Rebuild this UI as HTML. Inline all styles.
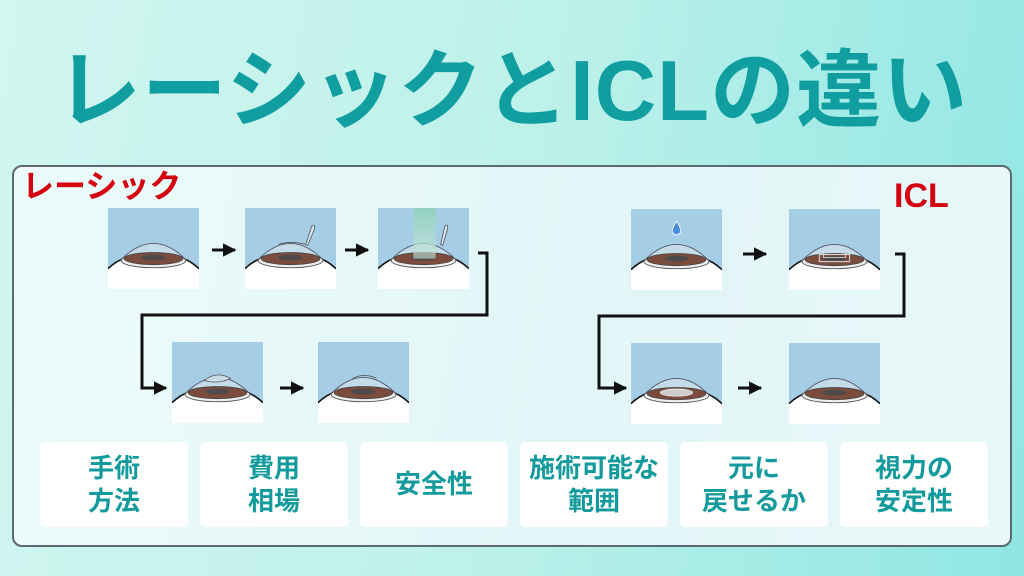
<!DOCTYPE html>
<html><head><meta charset="utf-8"><style>
*{margin:0;padding:0;box-sizing:border-box}
body{width:1024px;height:576px;overflow:hidden;background:linear-gradient(100deg,#d2f6f0 0%,#bdf1ea 50%,#8fe6e3 100%);font-family:"Liberation Sans","Noto Sans CJK JP",sans-serif;position:relative}
.title{position:absolute;left:0;top:42px;width:1024px;text-align:center;font-size:85px;font-weight:bold;color:#119ea0;line-height:100px;white-space:nowrap;letter-spacing:1px}
.panel{position:absolute;left:12px;top:165px;width:1000px;height:382px;border:2px solid #5d6a72;border-radius:10px;background:linear-gradient(100deg,#ecfbfa,#e2f6f7 60%,#e8f8f8)}
.lab{position:absolute;color:#d4000f;font-weight:bold;font-size:32px;line-height:36px}
.btn{position:absolute;top:442px;width:148px;height:85px;background:#fff;border-radius:5px;color:#139a9c;font-weight:bold;font-size:26px;line-height:33px;display:flex;align-items:center;justify-content:center;text-align:center}
svg.t{position:absolute;width:91px;height:81px}
</style></head><body>
<div class="title">レーシックとICLの違い</div>
<div class="panel"></div>
<div class="lab" style="left:22px;top:168px">レーシック</div>
<div class="lab" style="left:894px;top:178px;font-size:34px">ICL</div>
<svg width="0" height="0" style="position:absolute">
<defs>
<symbol id="eye" viewBox="0 0 90 80">
<rect width="90" height="80" fill="#fff"/>
<rect width="90" height="64" fill="#a6cde6"/>
<path d="M0,60 Q8,52 20,48 L70,48 Q82,52 90,60 L90,80 L0,80Z" fill="#fff"/>
<path d="M0,60 Q8,52 20,48 M70,48 Q82,52 90,60" stroke="#111" stroke-width="1.6" fill="none"/>
<path d="M12,52 Q45,18 78,52" fill="#c4dbe8" stroke="#556" stroke-width="0.9"/>
<ellipse cx="45" cy="52" rx="32" ry="7" fill="#eee" stroke="#555" stroke-width="0.9"/>
<ellipse cx="45" cy="50" rx="29" ry="6" fill="#7b4c3e" stroke="#444" stroke-width="0.8"/>
<ellipse cx="45" cy="49" rx="12" ry="3" fill="#4f4a4a"/>
</symbol>
</defs></svg>
<svg class="t" style="left:108px;top:208px" viewBox="0 0 90 80"><use href="#eye"/></svg>
<svg class="t" style="left:245px;top:208px" viewBox="0 0 90 80"><use href="#eye"/><path d="M33,36 Q45,32 60,36" stroke="#555" stroke-width="0.8" fill="none"/><path d="M60,36 L66,18 Q69,15 69,20 L62,37Z" fill="#d6e6ee" stroke="#555" stroke-width="0.8"/></svg>
<svg class="t" style="left:378px;top:208px" viewBox="0 0 90 80"><use href="#eye"/><defs><linearGradient id="g" x1="0" y1="0" x2="0" y2="1"><stop offset="0" stop-color="#8fd0b8"/><stop offset="1" stop-color="#c8e8d8" stop-opacity=".7"/></linearGradient></defs><rect x="35" y="0" width="22" height="50" fill="url(#g)" opacity=".85"/><path d="M62,36 L66,18 Q69,15 69,20 L64,37Z" fill="#d6e6ee" stroke="#555" stroke-width="0.8"/></svg>
<svg class="t" style="left:172px;top:342px" viewBox="0 0 90 80"><use href="#eye"/><path d="M32,38 Q44,28 58,36 Q45,42 32,38Z" fill="#c8dde8" stroke="#555" stroke-width="0.8"/></svg>
<svg class="t" style="left:318px;top:342px" viewBox="0 0 90 80"><use href="#eye"/><path d="M34,36 Q46,30 58,36" stroke="#555" stroke-width="0.8" fill="none"/></svg>
<svg class="t" style="left:631px;top:209px" viewBox="0 0 90 80"><use href="#eye"/><path d="M45,12 Q50,20 49,23 Q45,28 41,23 Q40,20 45,12Z" fill="#4a8de0" stroke="#fff" stroke-width="0.8"/></svg>
<svg class="t" style="left:789px;top:209px" viewBox="0 0 90 80"><use href="#eye"/><rect x="30" y="45" width="30" height="7" fill="none" stroke="#ddd" stroke-width="1"/><rect x="34" y="42" width="22" height="6" fill="none" stroke="#ddd" stroke-width="0.8"/></svg>
<svg class="t" style="left:631px;top:343px" viewBox="0 0 90 80"><use href="#eye"/><ellipse cx="45" cy="49" rx="16" ry="3.5" fill="#ccc" stroke="#eee" stroke-width="0.8"/></svg>
<svg class="t" style="left:789px;top:343px" viewBox="0 0 90 80"><use href="#eye"/></svg>
<svg style="position:absolute;left:0;top:0" width="1024" height="576">
<defs><marker id="a" viewBox="0 0 10 10" refX="9" refY="5" markerWidth="4.5" markerHeight="4.5" orient="auto"><path d="M0,0 L10,5 L0,10Z" fill="#111"/></marker></defs>
<g stroke="#111" stroke-width="3" fill="none">
<line x1="212" y1="250" x2="235" y2="250" marker-end="url(#a)"/>
<line x1="345" y1="250" x2="368" y2="250" marker-end="url(#a)"/>
<polyline points="478,253 487,253 487,315 142,315 142,388 166,388" marker-end="url(#a)"/>
<line x1="280" y1="388" x2="303" y2="388" marker-end="url(#a)"/>
<line x1="743" y1="254" x2="766" y2="254" marker-end="url(#a)"/>
<polyline points="895,254 904,254 904,316 599,316 599,388 626,388" marker-end="url(#a)"/>
<line x1="738" y1="388" x2="761" y2="388" marker-end="url(#a)"/>
</g></svg>
<div class="btn" style="left:40px">手術<br>方法</div>
<div class="btn" style="left:200px">費用<br>相場</div>
<div class="btn" style="left:360px">安全性</div>
<div class="btn" style="left:520px">施術可能な<br>範囲</div>
<div class="btn" style="left:680px">元に<br>戻せるか</div>
<div class="btn" style="left:840px">視力の<br>安定性</div>
</body></html>
